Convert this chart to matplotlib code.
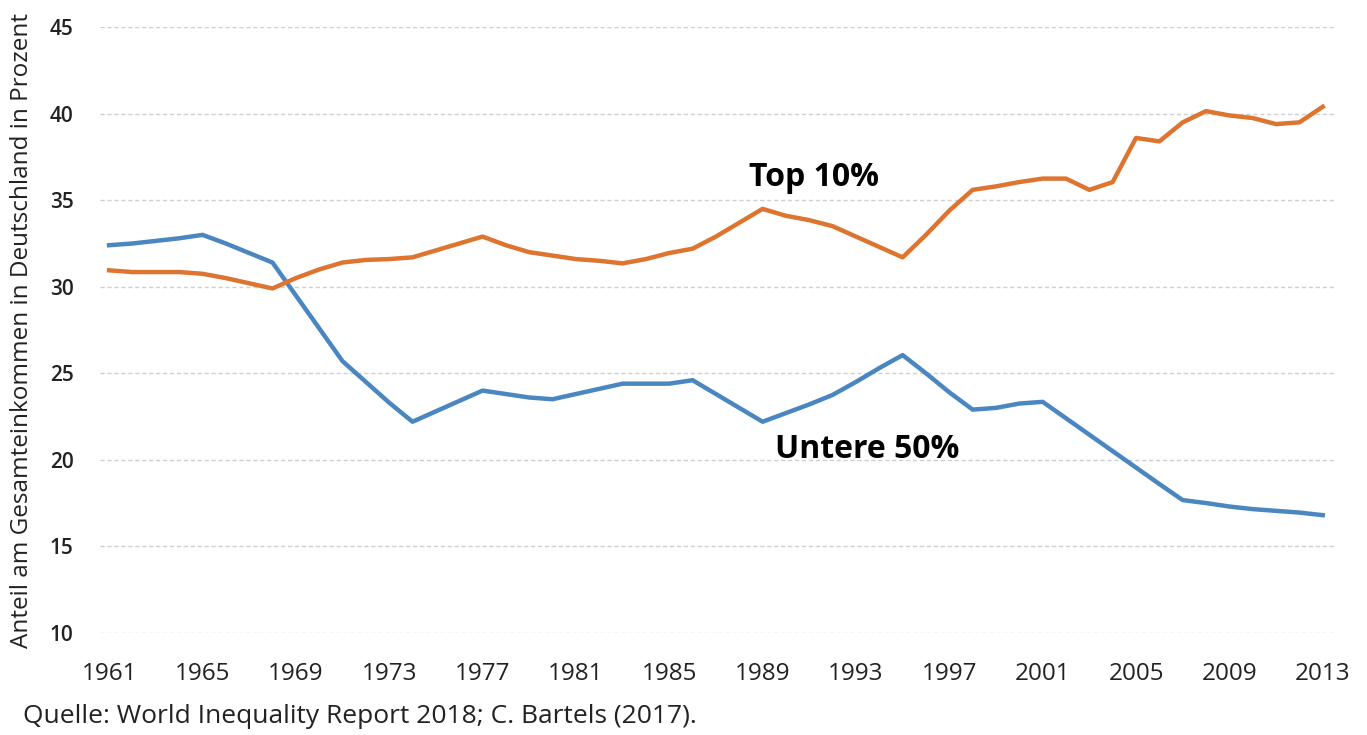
import matplotlib
matplotlib.use("Agg")
import matplotlib.pyplot as plt

# Anteil am Gesamteinkommen in Deutschland (Prozent), 1961-2013
years = list(range(1961, 2014))

untere_50 = [32.4, 32.5, 32.65, 32.8, 33.0, 32.5, 31.95, 31.4, 29.5, 27.6,
             25.7, 24.5, 23.3, 22.2, 22.8, 23.4, 24.0, 23.8, 23.6, 23.5,
             23.8, 24.1, 24.4, 24.4, 24.4, 24.6, 23.8, 23.0, 22.2, 22.7,
             23.2, 23.75, 24.5, 25.3, 26.05, 25.0, 23.9, 22.9, 23.0, 23.25,
             23.35, 22.4, 21.45, 20.5, 19.55, 18.6, 17.67, 17.5, 17.3, 17.15,
             17.05, 16.95, 16.8]

top_10 = [30.95, 30.85, 30.85, 30.85, 30.75, 30.5, 30.2, 29.9, 30.5, 31.0,
          31.4, 31.55, 31.6, 31.7, 32.1, 32.5, 32.9, 32.4, 32.0, 31.8,
          31.6, 31.5, 31.35, 31.6, 31.95, 32.2, 32.9, 33.7, 34.5, 34.1,
          33.85, 33.5, 32.9, 32.3, 31.7, 33.0, 34.4, 35.6, 35.8, 36.05,
          36.25, 36.25, 35.6, 36.05, 38.6, 38.4, 39.5, 40.15, 39.9, 39.75,
          39.4, 39.5, 40.4]

xticks = list(range(1961, 2014, 4))
yticks = [10, 15, 20, 25, 30, 35, 40, 45]

plt.rcParams['font.family'] = ['Open Sans', 'DejaVu Sans']

fig = plt.figure(figsize=(13.67, 7.35), dpi=100)
ax = fig.add_axes([0.073, 0.139, 0.904, 0.824])

ax.plot(years, untere_50, color='#4a86c0', linewidth=3.2, solid_joinstyle='round')
ax.plot(years, top_10, color='#dd7531', linewidth=3.2, solid_joinstyle='round')

ax.set_xlim(1960.6, 2013.55)
ax.set_ylim(10, 45)
ax.set_xticks(xticks)
ax.set_yticks(yticks)
ax.tick_params(axis='both', length=0, colors='#222222')
ax.tick_params(axis='x', pad=21, labelsize=17.5)
ax.tick_params(axis='y', pad=19, labelsize=15)
for lab in ax.get_yticklabels():
    lab.set_fontweight('semibold')

ax.grid(axis='y', color='#cfcfcf', linestyle=(0, (3, 2)), linewidth=1)
ax.set_axisbelow(True)
for s in ax.spines.values():
    s.set_visible(False)

fig.text(0.016, 0.55, 'Anteil am Gesamteinkommen in Deutschland in Prozent',
         fontsize=17.5, color='#222222', rotation=90, ha='center', va='center')

ax.text(1991.2, 35.8, 'Top 10%', fontsize=23, fontweight='bold', ha='center', va='baseline')
ax.text(1993.5, 20.1, 'Untere 50%', fontsize=23, fontweight='bold', ha='center', va='baseline')

fig.text(0.017, 0.025, 'Quelle: World Inequality Report 2018; C. Bartels (2017).',
         fontsize=19, color='#222222', va='center')

fig.savefig('out.png', dpi=100, facecolor='white')
